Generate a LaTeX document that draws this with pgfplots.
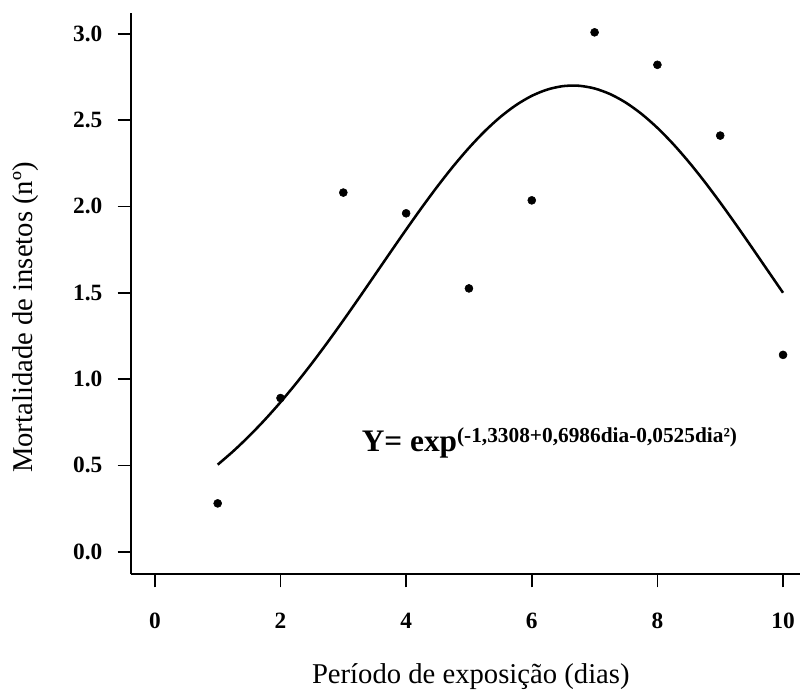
\documentclass[border=0pt]{standalone}
\usepackage{pgfplots}
\pgfplotsset{compat=1.18}
\usepackage{fontspec}
\setmainfont{Liberation Serif}
\begin{document}
\begin{tikzpicture}
\begin{axis}[
  scale only axis,
  width=501.75pt, height=420.75pt,
  xmin=-0.38, xmax=10.27,
  ymin=-0.129, ymax=3.12,
  axis lines=left,
  axis line style={-, line width=1.2pt},
  tick style={line width=1.2pt, black},
  tick align=outside,
  major tick length=10pt,
  xtick={0,2,4,6,8,10},
  ytick={0,0.5,1,1.5,2,2.5,3},
  /pgf/number format/assume math mode=true,
  yticklabel style={/pgf/number format/.cd, fixed, fixed zerofill, precision=1, use period, /tikz/.cd,
    font=\fontsize{17.5}{17.5}\selectfont\bfseries, xshift=-8pt},
  xticklabel style={font=\fontsize{17.5}{17.5}\selectfont\bfseries, yshift=-16pt},
  xlabel={Período de exposição (dias)},
  ylabel={Mortalidade de insetos (nº)},
  label style={font=\fontsize{21.5}{21.5}\selectfont},
  xlabel style={at={(axis description cs:0.508,-0.182)}, anchor=center},
  ylabel style={at={(axis description cs:-0.157,0.457)}, anchor=center},
  clip=false,
]
\addplot[only marks, mark=*, mark size=3pt, black] coordinates {
(1,0.28) (2,0.89) (3,2.08) (4,1.96) (5,1.525) (6,2.035) (7,3.008) (8,2.82) (9,2.41) (10,1.14)
};
\addplot[smooth, line width=1.9pt, black] coordinates {
(1,0.5042) (1.25,0.5830) (1.5,0.6697) (1.75,0.7641) (2,0.8662) (2.25,0.9756) (2.5,1.0915) (2.75,1.2133)
(3,1.3398) (3.25,1.4698) (3.5,1.6019) (3.75,1.7344) (4,1.8656) (4.25,1.9937) (4.5,2.1166) (4.75,2.2324)
(5,2.3388) (5.25,2.4347) (5.5,2.5178) (5.75,2.5867) (6,2.6401) (6.25,2.6769) (6.5,2.6966) (6.75,2.6986)
(7,2.6829) (7.25,2.6499) (7.5,2.6002) (7.75,2.5347) (8,2.4547) (8.25,2.3617) (8.5,2.2573) (8.75,2.1435)
(9,2.0221) (9.25,1.8951) (9.5,1.7643) (9.75,1.6319) (10,1.4997)
};
\node[anchor=base west, inner sep=0pt] at (axis cs:3.29,0.583)
  {{\fontsize{23.5}{23.5}\selectfont\bfseries Y= exp}\raisebox{6.75pt}{\fontsize{16}{16}\selectfont\bfseries (-1,3308+0,6986dia-0,0525dia²)}};
\end{axis}
\pgfresetboundingbox
\path[use as bounding box] (current axis.south west) ++(-98.25pt,-89.25pt) rectangle ++(600pt,519.75pt);
\end{tikzpicture}
\end{document}
